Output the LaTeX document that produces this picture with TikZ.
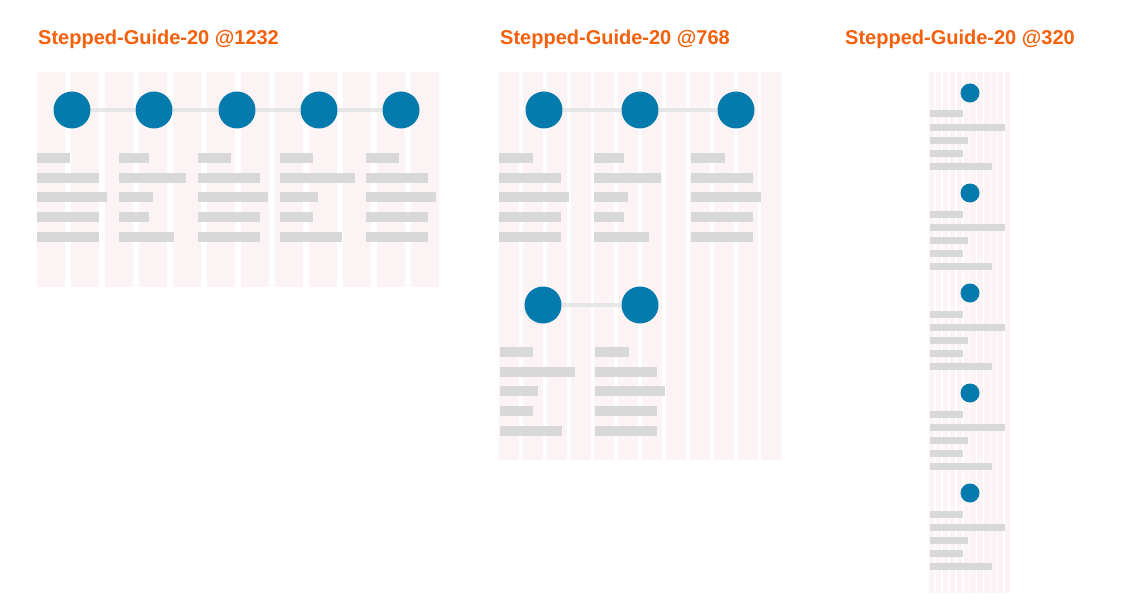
\documentclass[tikz,border=0pt]{standalone}
\usepackage{fontspec}
\setmainfont{Liberation Sans}
\definecolor{stepblue}{HTML}{047BAC}
\definecolor{steporange}{HTML}{F4600C}
\definecolor{gridpink}{HTML}{FCF3F4}
\definecolor{barfill}{HTML}{D8D8D8}
\definecolor{linkgray}{HTML}{E6E6E6}
\tikzset{
  title/.style={anchor=base west, inner sep=0pt, text=steporange, font=\fontsize{20}{20}\selectfont\bfseries},
  dot/.style={circle, fill=stepblue, inner sep=0pt, minimum size=37pt},
  smalldot/.style={circle, fill=stepblue, inner sep=0pt, minimum size=19pt},
  link/.style={draw=linkgray, line width=4pt},
  bar/.style={fill=barfill},
}
% one block of five bars: x, y of first bar centre, row pitch, height, widths
\newcommand{\barblock}[5]{%
  \foreach \w [count=\k from 0] in {#5}
    \fill[bar] (#1, #2+\k*#3-#4/2) rectangle ++(\w, #4);}
\begin{document}
\begin{tikzpicture}[x=1pt, y=-1pt]
  \useasboundingbox[fill=white] (0,0) rectangle (1132,615);
  % titles
  \node[title] (t1) at (38,45) {Stepped-Guide-20 @1232};
  \node[title] (t2) at (500,45) {Stepped-Guide-20 @768};
  \node[title] (t3) at (845,45) {Stepped-Guide-20 @320};
  % column grids
  \foreach \i in {0,...,11}
    \fill[gridpink] (37+\i*34, 72) rectangle ++(28, 215);
  \foreach \i in {0,...,11}
    \fill[gridpink] (499+\i*23.85, 72) rectangle ++(20, 388);
  \foreach \i in {0,...,11}
    \fill[gridpink] (929+\i*6.9, 72) rectangle ++(5.4, 521);
  % @1232
  \foreach \x [count=\n] in {72,154,237,319,401}
    \node[dot] (a\n) at (\x,110) {};
  \path[link] (a1) -- (a2) (a2) -- (a3) (a3) -- (a4) (a4) -- (a5);
  \barblock{37}{158}{19.7}{10}{33,62,70,62,62}
  \barblock{119}{158}{19.7}{10}{30,67,34,30,55}
  \barblock{198}{158}{19.7}{10}{33,62,70,62,62}
  \barblock{280}{158}{19.7}{10}{33,75,38,33,62}
  \barblock{366}{158}{19.7}{10}{33,62,70,62,62}
  % @768
  \node[dot] (b1) at (544,110) {};
  \node[dot] (b2) at (640,110) {};
  \node[dot] (b3) at (736,110) {};
  \node[dot] (b4) at (543,305) {};
  \node[dot] (b5) at (640,305) {};
  \path[link] (b1) -- (b2) (b2) -- (b3) (b4) -- (b5);
  \barblock{499}{158}{19.7}{10}{34,62,70,62,62}
  \barblock{594}{158}{19.7}{10}{30,67,34,30,55}
  \barblock{691}{158}{19.7}{10}{34,62,70,62,62}
  \barblock{500}{352}{19.7}{10}{33,75,38,33,62}
  \barblock{595}{352}{19.7}{10}{34,62,70,62,62}
  % @320
  \foreach \y [count=\n] in {93,193,293,393,493} {
    \node[smalldot] (c\n) at (970,\y) {};
    \barblock{930}{\y+21}{13.2}{7}{33,75,38,33,62}
  }
\end{tikzpicture}
\end{document}
